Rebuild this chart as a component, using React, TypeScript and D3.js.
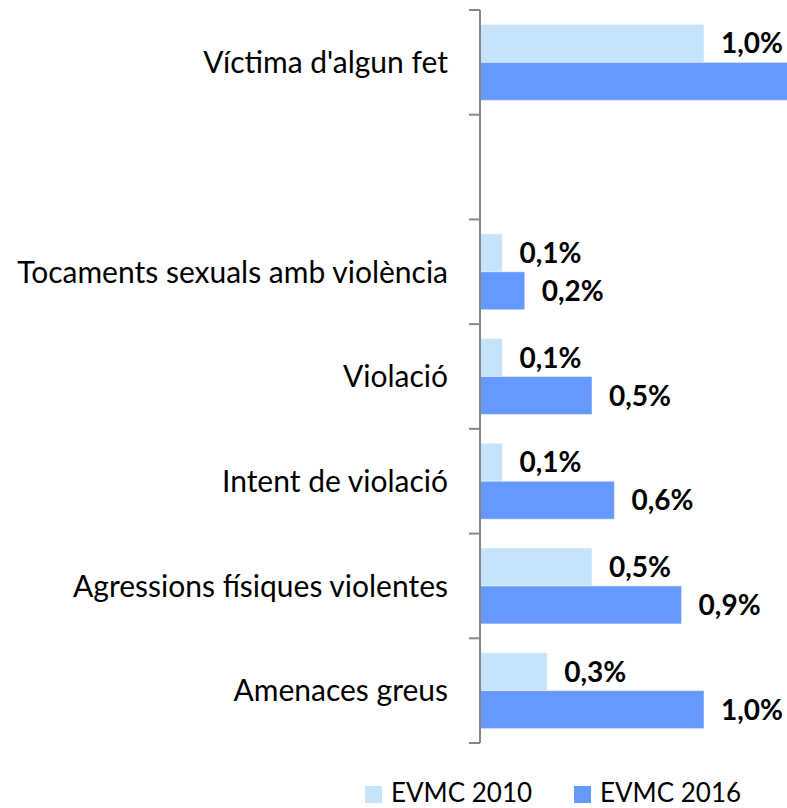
import React from "react";
import * as d3 from "d3";

const categories = [
  "Víctima d'algun fet",
  "",
  "Tocaments sexuals amb violència",
  "Violació",
  "Intent de violació",
  "Agressions físiques violentes",
  "Amenaces greus",
];
const series2010 = [1.0, null, 0.1, 0.1, 0.1, 0.5, 0.3];
const series2016 = [1.4, null, 0.2, 0.5, 0.6, 0.9, 1.0];
const seriesNames = ["EVMC 2010", "EVMC 2016"];
const seriesColors = ["#C5E4FC", "#6699FF"];

const W = 787;
const H = 808;
const FONT = "Lato, 'Open Sans', sans-serif";

export default function App() {
  const keys = categories.map((c, i) => `${i}`);
  const y = d3.scaleBand<string>().domain(keys).range([10, 743]).padding(0);
  const x = d3.scaleLinear().domain([0, 1]).range([480, 704]);
  const inner = d3
    .scaleBand<string>()
    .domain(["0", "1"])
    .range([0, y.step()])
    .paddingInner(0)
    .paddingOuter(0.378);
  const fmt = (v: number) => d3.format(".1f")(v).replace(".", ",") + "%";
  const series = [series2010, series2016];

  return (
    <svg
      width={W}
      height={H}
      style={{ position: "absolute", left: 0, top: 0, background: "#fff" }}
      fontFamily={FONT}
    >
      {/* bars */}
      {series.map((vals, si) =>
        vals.map((v, ci) => {
          if (v == null) return null;
          const y0 = (y(keys[ci]) as number) + (inner(`${si}`) as number);
          const bw = inner.bandwidth();
          const x1 = x(v);
          const lx = x1 + 17;
          return (
            <g key={`${si}-${ci}`}>
              <rect
                x={x(0)}
                y={y0}
                width={x1 - x(0)}
                height={bw}
                fill={seriesColors[si]}
                stroke="#ffffff"
                strokeOpacity={0.5}
                strokeWidth={1}
              />
              {lx < W - 20 && (
                <text
                  x={lx}
                  y={y0 + bw / 2}
                  dy="0.36em"
                  fontSize={28}
                  fontWeight="bold"
                  fill="#000"
                >
                  {fmt(v)}
                </text>
              )}
            </g>
          );
        })
      )}
      {/* axis */}
      <line x1={480} x2={480} y1={10} y2={743} stroke="#868686" strokeWidth={2} />
      {d3.range(keys.length + 1).map((i) => {
        const yy = 10 + i * y.step();
        return (
          <line key={i} x1={469} x2={480} y1={yy} y2={yy} stroke="#868686" strokeWidth={2} />
        );
      })}
      {/* category labels */}
      {categories.map((c, i) => (
        <text
          key={i}
          x={448}
          y={(y(keys[i]) as number) + y.bandwidth() / 2}
          dy="0.36em"
          textAnchor="end"
          fontSize={30}
          fill="#000"
        >
          {c}
        </text>
      ))}
      {/* legend */}
      {seriesNames.map((n, i) => {
        const lx = i === 0 ? 365 : 574;
        return (
          <g key={n}>
            <rect x={lx} y={786} width={17} height={17} fill={seriesColors[i]} />
            <text x={lx + 26} y={802} fontSize={26} fill="#000">
              {n}
            </text>
          </g>
        );
      })}
    </svg>
  );
}
